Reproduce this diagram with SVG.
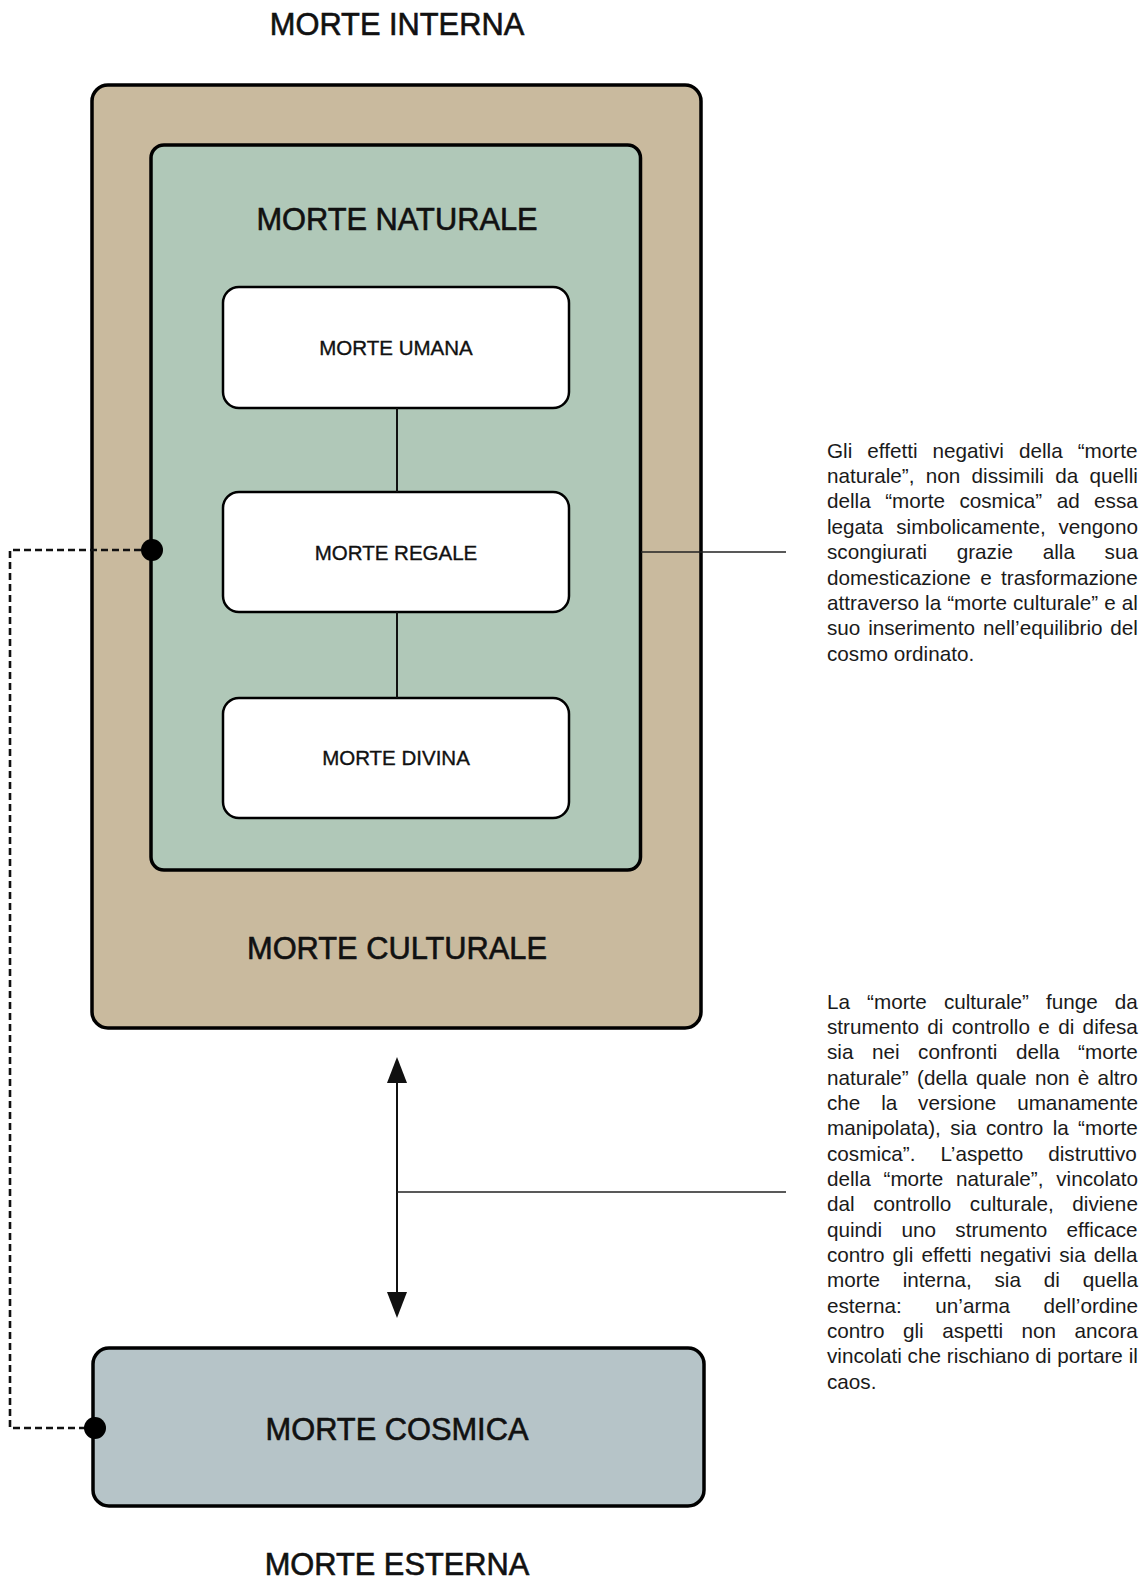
<svg xmlns="http://www.w3.org/2000/svg" width="1148" height="1582" viewBox="0 0 1148 1582">
  <style>
    .title { font-family: "Liberation Sans", Arial, sans-serif; font-size: 30.8px; fill: #111; stroke: #111; stroke-width: 0.6px; text-anchor: middle; }
    .label { font-family: "Liberation Sans", Arial, sans-serif; font-size: 20.5px; fill: #111; stroke: #111; stroke-width: 0.35px; text-anchor: middle; }
    .para { font-family: "Liberation Sans", Arial, sans-serif; font-size: 20.7px; fill: #1a1a1a; }
    .frame { stroke: #000; stroke-width: 3.5; }
    .inner { fill: #fff; stroke: #000; stroke-width: 2.5; }
    .link { stroke: #111; stroke-width: 2; fill: none; }
    .lead { stroke: #222; stroke-width: 1.4; fill: none; }
    .dash { stroke: #111; stroke-width: 2.6; fill: none; stroke-dasharray: 7 4; }
  </style>

  <rect width="1148" height="1582" fill="#fff"/>

  <!-- titles outside the frames -->
  <text class="title" x="397" y="35">MORTE INTERNA</text>
  <text class="title" x="397" y="1575">MORTE ESTERNA</text>

  <!-- cultural death (outer frame) -->
  <g id="morte-culturale">
    <rect class="frame" x="92" y="85" width="609" height="943" rx="16" fill="#c9ba9e"/>
    <text class="title" x="397" y="959">MORTE CULTURALE</text>
  </g>

  <!-- natural death (inner frame) -->
  <g id="morte-naturale">
    <rect class="frame" x="151" y="145" width="489.5" height="725" rx="13" fill="#b0c8b8"/>
    <text class="title" x="397" y="230">MORTE NATURALE</text>
  </g>

  <g id="morte-umana">
    <rect class="inner" x="223" y="287" width="346" height="121" rx="16"/>
    <text class="label" x="396" y="355">MORTE UMANA</text>
  </g>

  <g id="morte-regale">
    <rect class="inner" x="223" y="492" width="346" height="120" rx="16"/>
    <text class="label" x="396" y="559.5">MORTE REGALE</text>
  </g>

  <g id="morte-divina">
    <rect class="inner" x="223" y="698" width="346" height="120" rx="16"/>
    <text class="label" x="396" y="765">MORTE DIVINA</text>
  </g>

  <g id="morte-cosmica">
    <rect class="frame" x="93" y="1348" width="611" height="158" rx="16" fill="#b6c4c8"/>
    <text class="title" x="397" y="1440">MORTE COSMICA</text>
  </g>

  <!-- connectors -->
  <g id="connectors">
    <line class="link" x1="397" y1="408" x2="397" y2="492"/>
    <line class="link" x1="397" y1="612" x2="397" y2="698"/>
    <line class="link" x1="397" y1="1075" x2="397" y2="1300" stroke-width="2.6"/>
    <path d="M397,1057 L407,1083 L387,1083 Z" fill="#111"/>
    <path d="M397,1318 L407,1292 L387,1292 Z" fill="#111"/>
    <line class="lead" x1="641" y1="552" x2="786" y2="552"/>
    <line class="lead" x1="397" y1="1192" x2="786" y2="1192"/>
    <path class="dash" d="M152,550 H10 V1428 H94"/>
    <circle cx="152" cy="550" r="11" fill="#000"/>
    <circle cx="95" cy="1428" r="11" fill="#000"/>
  </g>

  <!-- explanatory notes (justified) -->
  <g id="note-naturale" class="para">
    <text x="827" y="457.5" word-spacing="9.3">Gli effetti negativi della “morte</text>
    <text x="827" y="482.9" word-spacing="5.57">naturale”, non dissimili da quelli</text>
    <text x="827" y="508.3" word-spacing="8.72">della “morte cosmica” ad essa</text>
    <text x="827" y="533.7" word-spacing="7.09">legata simbolicamente, vengono</text>
    <text x="827" y="559.1" word-spacing="23.9">scongiurati grazie alla sua</text>
    <text x="827" y="584.5" word-spacing="3.64">domesticazione e trasformazione</text>
    <text x="827" y="609.9" word-spacing="0.3">attraverso la “morte culturale” e al</text>
    <text x="827" y="635.3" word-spacing="2.05">suo inserimento nell’equilibrio del</text>
    <text x="827" y="660.7">cosmo ordinato.</text>
  </g>

  <g id="note-culturale" class="para">
    <text x="827" y="1008.5" word-spacing="11.3">La “morte culturale” funge da</text>
    <text x="827" y="1033.8" word-spacing="2.6">strumento di controllo e di difesa</text>
    <text x="827" y="1059.2" word-spacing="12.75">sia nei confronti della “morte</text>
    <text x="827" y="1084.5" word-spacing="2.6">naturale” (della quale non è altro</text>
    <text x="827" y="1109.9" word-spacing="15.08">che la versione umanamente</text>
    <text x="827" y="1135.2" word-spacing="3.55">manipolata), sia contro la “morte</text>
    <text x="827" y="1160.6" word-spacing="19.2">cosmica”. L’aspetto distruttivo</text>
    <text x="827" y="1185.9" word-spacing="7.04">della “morte naturale”, vincolato</text>
    <text x="827" y="1211.3" word-spacing="12.78">dal controllo culturale, diviene</text>
    <text x="827" y="1236.6" word-spacing="13.54">quindi uno strumento efficace</text>
    <text x="827" y="1262.0" word-spacing="2.37">contro gli effetti negativi sia della</text>
    <text x="827" y="1287.3" word-spacing="17.07">morte interna, sia di quella</text>
    <text x="827" y="1312.7" word-spacing="27.8">esterna: un’arma dell’ordine</text>
    <text x="827" y="1338.0" word-spacing="12.74">contro gli aspetti non ancora</text>
    <text x="827" y="1363.4" word-spacing="0.08">vincolati che rischiano di portare il</text>
    <text x="827" y="1388.7">caos.</text>
  </g>
</svg>
